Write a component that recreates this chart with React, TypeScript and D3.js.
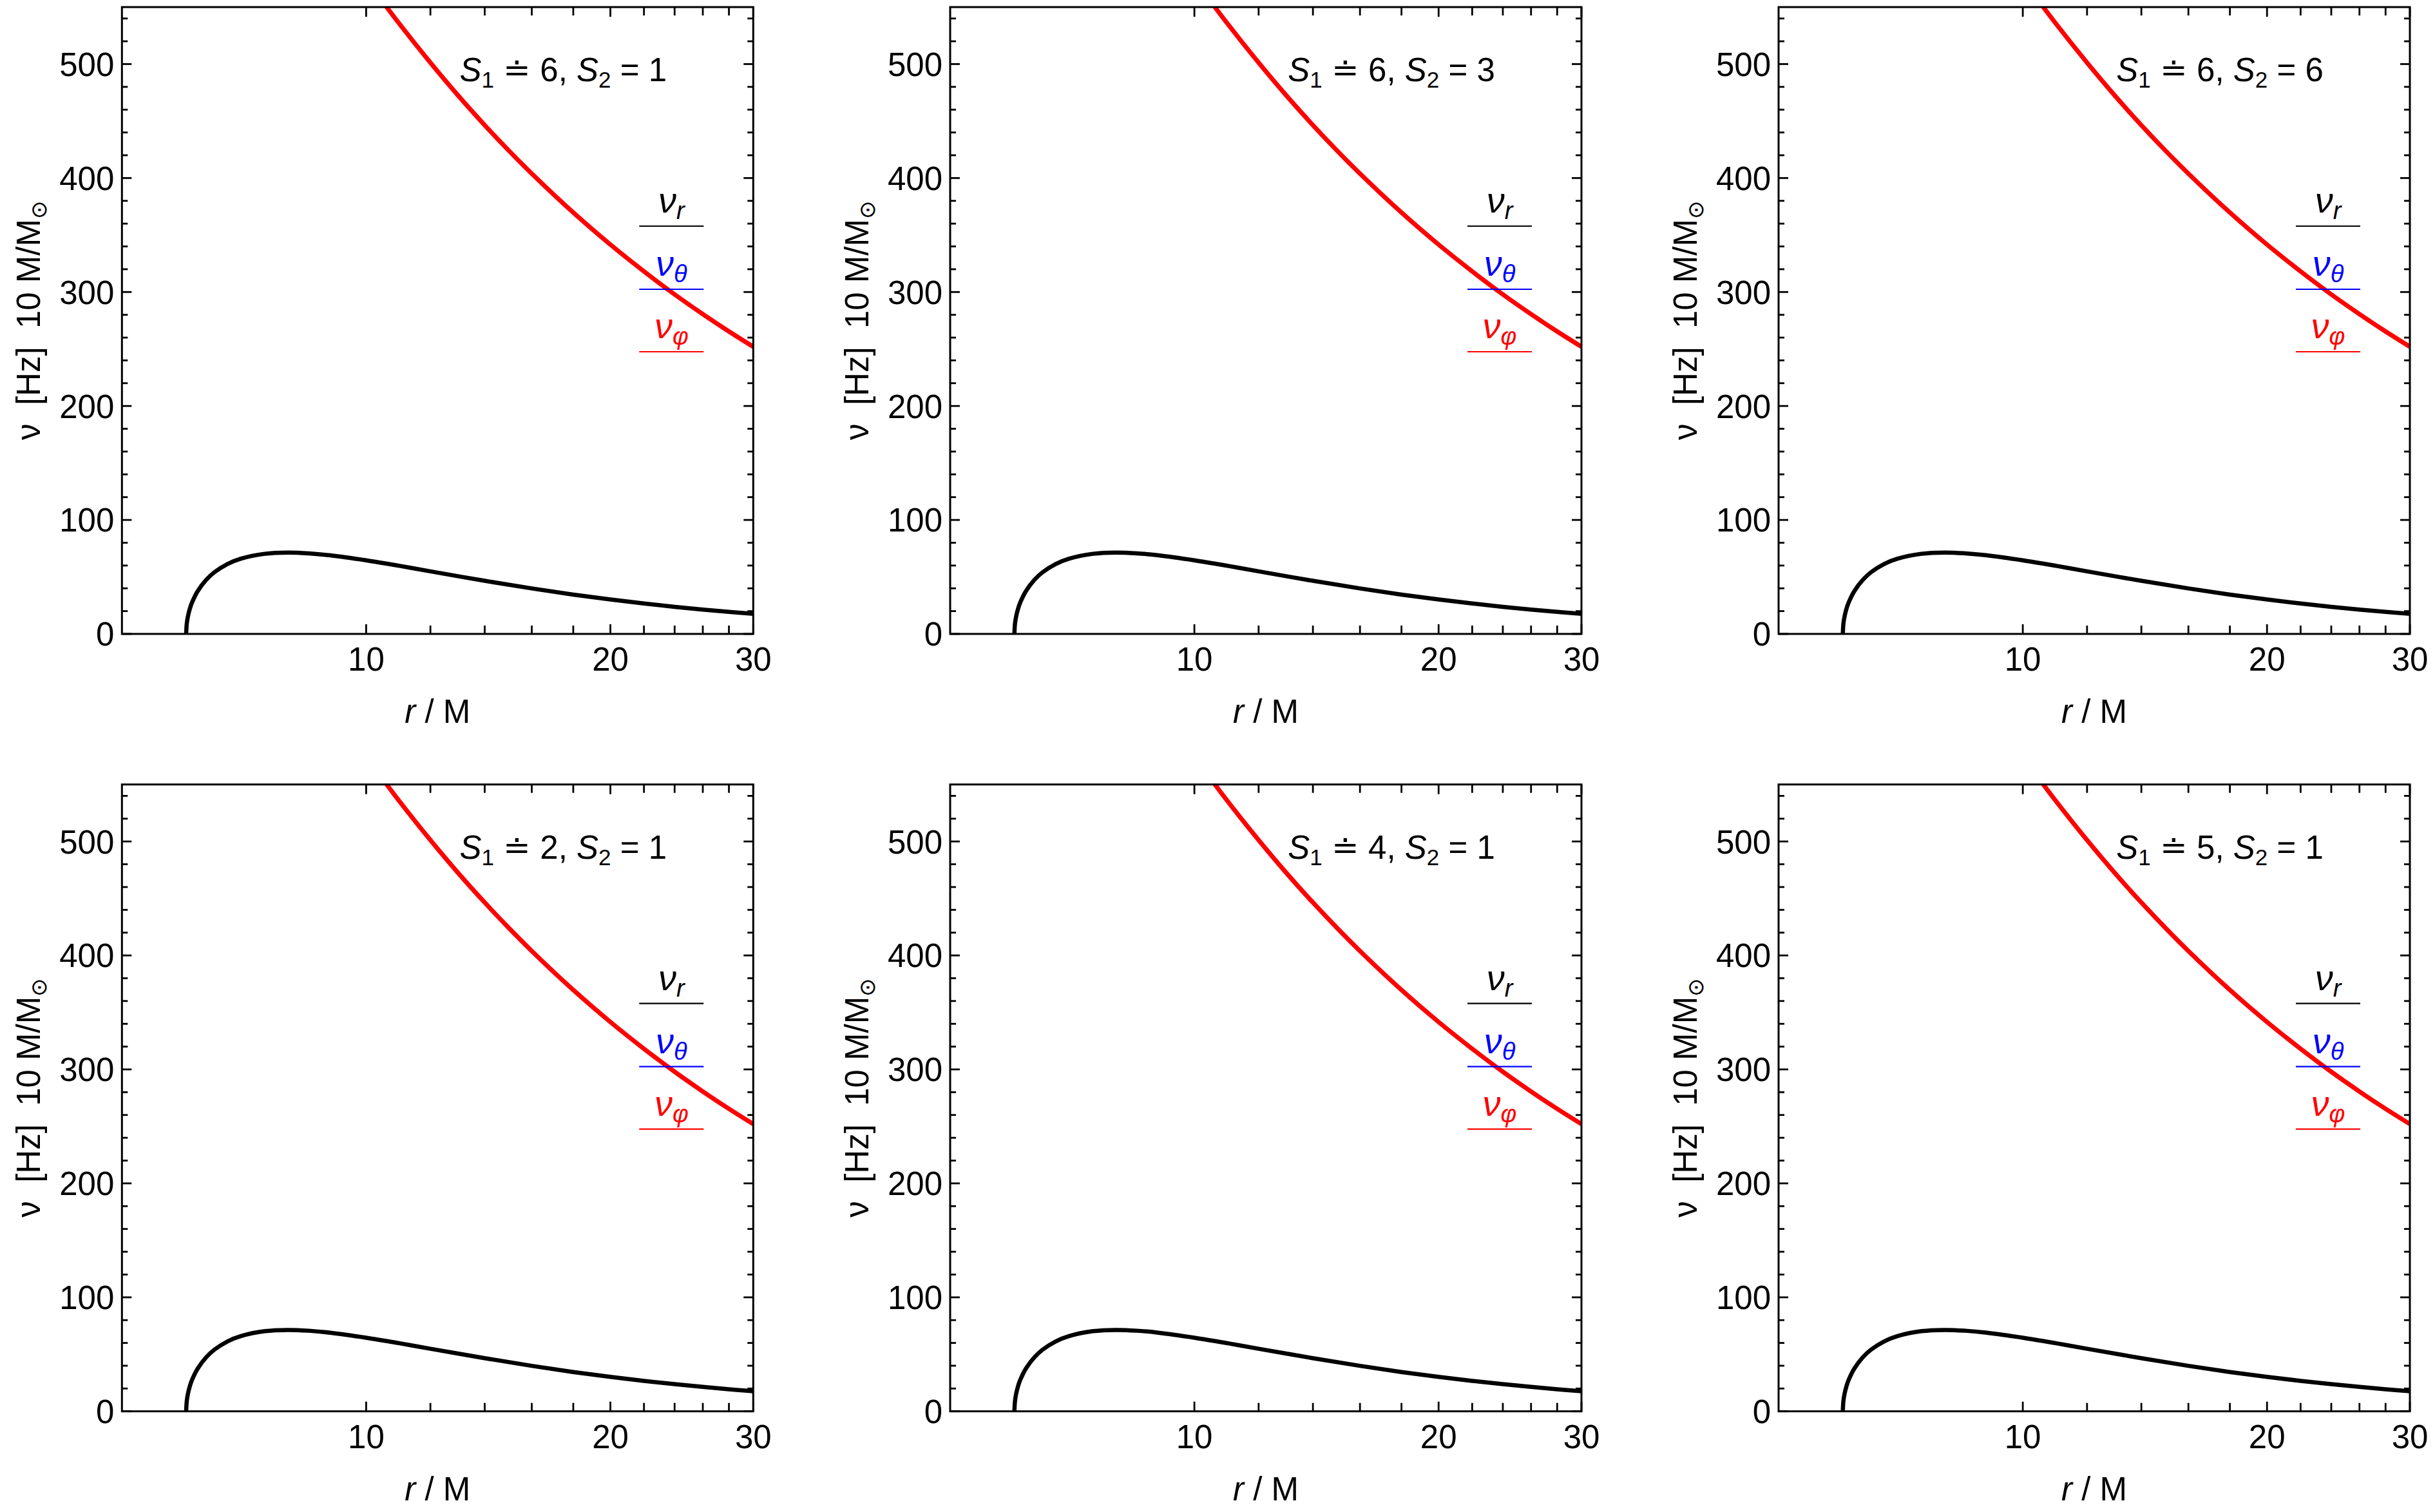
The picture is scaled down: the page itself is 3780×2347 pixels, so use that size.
import React from 'react';
import * as d3 from 'd3';

// ---- data ----
const rRadial = [6, 6.01, 6.03, 6.06, 6.1, 6.2, 6.35, 6.5, 6.75, 7, 7.5, 8, 8.5, 9, 10, 11, 12, 14, 16, 18, 20, 22, 24, 26, 28, 30];
const nuRadial = [0, 8.95, 15.4, 21.6, 27.5, 37.6, 47.4, 54.1, 61.4, 65.9, 70.3, 71.4, 70.7, 69.1, 64.6, 59.7, 54.9, 46.6, 39.9, 34.5, 30.2, 26.7, 23.8, 21.4, 19.3, 17.6];
const rOrbital = [10.4, 11, 12, 13, 14, 15, 16, 18, 20, 22, 24, 26, 28, 30];
const nuOrbital = [557.9, 534.9, 501.2, 471.9, 446.4, 423.9, 403.9, 369.7, 341.6, 318.1, 297.9, 280.6, 265.4, 252.0];

const panelS1 = ['6', '6', '6', '2', '4', '5'];
const panelS2 = ['1', '3', '6', '1', '1', '1'];

const xMajorTicks = [10, 20, 30];
const xMinorTicks = [12, 14, 16, 18, 22, 24, 26, 28];
const yMajorTicks = [0, 100, 200, 300, 400, 500];
const yMinorTicks = [20, 40, 60, 80, 120, 140, 160, 180, 220, 240, 260, 280, 320, 340, 360, 380, 420, 440, 460, 480, 520, 540];

const legendSymbols = ['r', 'θ', 'φ'];
const legendColors = ['#000000', '#0000ff', '#ff0000'];

// ---- layout ----
const W = 3780;
const H = 2347;
const colLeft = [189.3, 1475, 2761];
const rowTop = [11, 1217.7];
const plotW = 980;
const plotH = 973;
const FONT = '"Liberation Sans", Arial, Helvetica, sans-serif';

type Pt = [number, number];

function Panel({ left, top, s1, s2, idx }: { left: number; top: number; s1: string; s2: string; idx: number }) {
  const x = d3.scaleLog().domain([5, 30]).range([left, left + plotW]);
  const y = d3.scaleLinear().domain([0, 550]).range([top + plotH, top]);
  const line = d3
    .line<Pt>()
    .x((d) => x(d[0]))
    .y((d) => y(d[1]))
    .curve(d3.curveCatmullRom.alpha(0.5));
  const radialPts: Pt[] = rRadial.map((r, i) => [r, nuRadial[i]]);
  const orbitalPts: Pt[] = rOrbital.map((r, i) => [r, nuOrbital[i]]);
  const bottom = top + plotH;
  const right = left + plotW;
  const clipId = `clip-${idx}`;
  const tickStroke = 2.8;
  const majorLen = 15;
  const minorLen = 9;
  const xMajorLen = 15;
  const xMinorLen = 13;

  const legX1 = right - 177;
  const legX2 = right - 77;
  const legYs = [top + 340, top + 438, top + 535];

  return (
    <g>
      <defs>
        <clipPath id={clipId}>
          <rect x={left} y={top - 1} width={plotW + 4} height={plotH + 1} />
        </clipPath>
      </defs>
      <g clipPath={`url(#${clipId})`}>
        <path d={line(radialPts) || ''} fill="none" stroke="#000" strokeWidth={6.5} strokeLinejoin="round" />
        <path d={line(orbitalPts) || ''} fill="none" stroke="#ff0000" strokeWidth={7} strokeLinejoin="round" />
      </g>
      {/* legend */}
      {legendSymbols.map((s, i) => (
        <g key={s}>
          <line x1={legX1} x2={legX2} y1={legYs[i]} y2={legYs[i]} stroke={legendColors[i]} strokeWidth={2.2} />
          <text
            x={(legX1 + legX2) / 2}
            y={legYs[i] - 21}
            fontFamily={FONT}
            fontSize={56}
            fontStyle="italic"
            fill={legendColors[i]}
            textAnchor="middle"
          >
            <tspan>ν</tspan>
            <tspan fontSize={38} dy={10}>{s}</tspan>
          </text>
        </g>
      ))}
      {/* title */}
      <text
        x={left + 685}
        y={top + 115}
        fontFamily={FONT}
        fontSize={51}
        textAnchor="middle"
        style={{ whiteSpace: 'pre' }}
      >
        <tspan fontStyle="italic">S</tspan>
        <tspan fontSize={35} dy={10}>1</tspan>
        <tspan dy={-10}>{` ≐ ${s1}, `}</tspan>
        <tspan fontStyle="italic">S</tspan>
        <tspan fontSize={35} dy={10}>2</tspan>
        <tspan dy={-10}>{` = ${s2}`}</tspan>
      </text>
      {/* frame */}
      <rect x={left} y={top} width={plotW} height={plotH} fill="none" stroke="#000" strokeWidth={3} />
      {/* x ticks */}
      {xMajorTicks.map((t) => (
        <g key={`xM${t}`}>
          <line x1={x(t)} x2={x(t)} y1={bottom} y2={bottom - xMajorLen} stroke="#000" strokeWidth={tickStroke} />
          <line x1={x(t)} x2={x(t)} y1={top} y2={top + xMajorLen} stroke="#000" strokeWidth={tickStroke} />
          <text x={x(t)} y={bottom + 57} fontFamily={FONT} fontSize={51} textAnchor="middle">
            {t}
          </text>
        </g>
      ))}
      {xMinorTicks.map((t) => (
        <g key={`xm${t}`}>
          <line x1={x(t)} x2={x(t)} y1={bottom} y2={bottom - xMinorLen} stroke="#000" strokeWidth={tickStroke} />
          <line x1={x(t)} x2={x(t)} y1={top} y2={top + xMinorLen} stroke="#000" strokeWidth={tickStroke} />
        </g>
      ))}
      {/* y ticks */}
      {yMajorTicks.map((t) => (
        <g key={`yM${t}`}>
          <line x1={left} x2={left + majorLen} y1={y(t)} y2={y(t)} stroke="#000" strokeWidth={tickStroke} />
          <line x1={right} x2={right - majorLen} y1={y(t)} y2={y(t)} stroke="#000" strokeWidth={tickStroke} />
          <text x={left - 12} y={y(t)} dy="0.36em" fontFamily={FONT} fontSize={51} textAnchor="end">
            {t}
          </text>
        </g>
      ))}
      {yMinorTicks.map((t) => (
        <g key={`ym${t}`}>
          <line x1={left} x2={left + minorLen} y1={y(t)} y2={y(t)} stroke="#000" strokeWidth={tickStroke} />
          <line x1={right} x2={right - minorLen} y1={y(t)} y2={y(t)} stroke="#000" strokeWidth={tickStroke} />
        </g>
      ))}
      {/* axis labels */}
      <text x={left + plotW / 2} y={bottom + 138} fontFamily={FONT} fontSize={51} textAnchor="middle" style={{ whiteSpace: 'pre' }}>
        <tspan fontStyle="italic">r</tspan>
        <tspan>{' / M'}</tspan>
      </text>
      <text
        transform={`translate(${left - 127},${top + plotH / 2}) rotate(-90)`}
        fontFamily={FONT}
        fontSize={51}
        textAnchor="middle"
        style={{ whiteSpace: 'pre' }}
      >
        <tspan>{'ν  [Hz]  10 M/M'}</tspan>
        <tspan fontSize={34} dy={10}>⊙</tspan>
      </text>
    </g>
  );
}

export default function App() {
  return (
    <svg
      width={W}
      height={H}
      viewBox={`0 0 ${W} ${H}`}
      style={{ position: 'absolute', left: 0, top: 0, background: '#fff' }}
    >
      <rect x={0} y={0} width={W} height={H} fill="#fff" />
      {panelS1.map((s1, i) => (
        <Panel
          key={i}
          idx={i}
          left={colLeft[i % 3]}
          top={rowTop[Math.floor(i / 3)]}
          s1={s1}
          s2={panelS2[i]}
        />
      ))}
    </svg>
  );
}
